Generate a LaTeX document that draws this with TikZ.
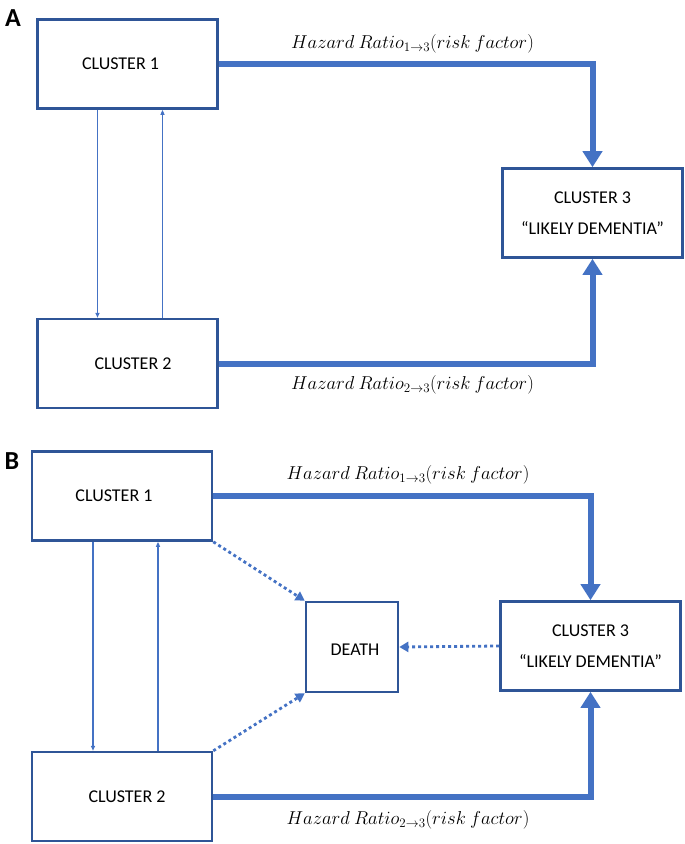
\documentclass[tikz,border=0pt]{standalone}
\usepackage{fontspec}
\setmainfont{Carlito}
\usetikzlibrary{arrows.meta,positioning}
\definecolor{boxblue}{HTML}{2F5597}
\definecolor{linkblue}{HTML}{4472C4}
\newcommand{\hazardtext}[1]{\scalebox{1.08}{$Hazard\ Ratio_{#1\to3}(risk\ factor)$}}
\tikzset{
        >={Triangle[length=5pt,width=4pt]},
        cluster/.style = {draw=boxblue, line width=2.6pt, minimum width=180pt, minimum height=89pt, align=center, font=\fontsize{18}{31}\selectfont},
        clustext/.style = {font=\fontsize{18}{31}\selectfont},
        hazard/.style = {->, draw=linkblue, line width=6pt, >={Triangle[length=16pt,width=19pt]}},
        trans/.style = {->, draw=linkblue, line width=1.4pt},
        death/.style = {->, draw=linkblue, line width=2.8pt, dash pattern=on 3pt off 3pt, >={Triangle[length=9pt,width=10pt]}},
        ratio/.style = {font=\fontsize{17.28}{20}\selectfont},
        panel/.style = {font=\bfseries\fontsize{26}{26}\selectfont}
}

\begin{document}
\begin{tikzpicture}[x=1pt, y=-1pt]
        \useasboundingbox (0,0) rectangle (685,844);

        % Panel A
        \node[panel] (pa) at (13,18) {A};
        \node[cluster, label={[clustext, xshift=-7pt]center:CLUSTER 1}] (c1a) at (127.5,64) {};
        \node[cluster, below=208pt of c1a, label={[clustext, xshift=5.5pt]center:CLUSTER 2}] (c2a) {};
        \node[cluster] (c3a) at (592.5,213) {CLUSTER 3\\“LIKELY DEMENTIA”};

        % Hazard paths
        \draw [hazard] (c1a.east) -| (c3a.north);
        \draw [hazard] (c2a.east) -| (c3a.south);
        \node[ratio] (hr13a) at (412.5,44) {\hazardtext{1}};
        \node[ratio] (hr23a) at (412.5,385) {\hazardtext{2}};

        % Transitions
        \draw [trans] ([xshift=-30pt]c1a.south) -- ([xshift=-30pt]c2a.north);
        \draw [trans] ([xshift=35pt]c2a.north) -- ([xshift=35pt]c1a.south);

        % Panel B
        \node[panel] (pb) at (12,461) {B};
        \node[cluster, label={[clustext, xshift=-8pt]center:CLUSTER 1}] (c1b) at (122,496) {};
        \node[cluster, below=209pt of c1b, label={[clustext, xshift=5pt]center:CLUSTER 2}] (c2b) {};
        \node[cluster] (c3b) at (590.5,646) {CLUSTER 3\\“LIKELY DEMENTIA”};
        \node[cluster, minimum width=92pt, minimum height=90pt, label={[clustext, xshift=3pt, yshift=-3pt]center:DEATH}] (dth) at (352,647) {};

        % Hazard paths
        \draw [hazard] (c1b.east) -| (c3b.north);
        \draw [hazard] (c2b.east) -| (c3b.south);
        \node[ratio] (hr13b) at (408,475) {\hazardtext{1}};
        \node[ratio] (hr23b) at (408,820) {\hazardtext{2}};

        % Transitions
        \draw [trans] ([xshift=-29pt]c1b.south) -- ([xshift=-29pt]c2b.north);
        \draw [trans] ([xshift=36pt]c2b.north) -- ([xshift=36pt]c1b.south);

        % Death
        \draw [death] (c1b.south east) -- (dth.north west);
        \draw [death] (c2b.north east) -- (dth.south west);
        \draw [death] (c3b.west) -- (dth.east);

\end{tikzpicture}
\end{document}
